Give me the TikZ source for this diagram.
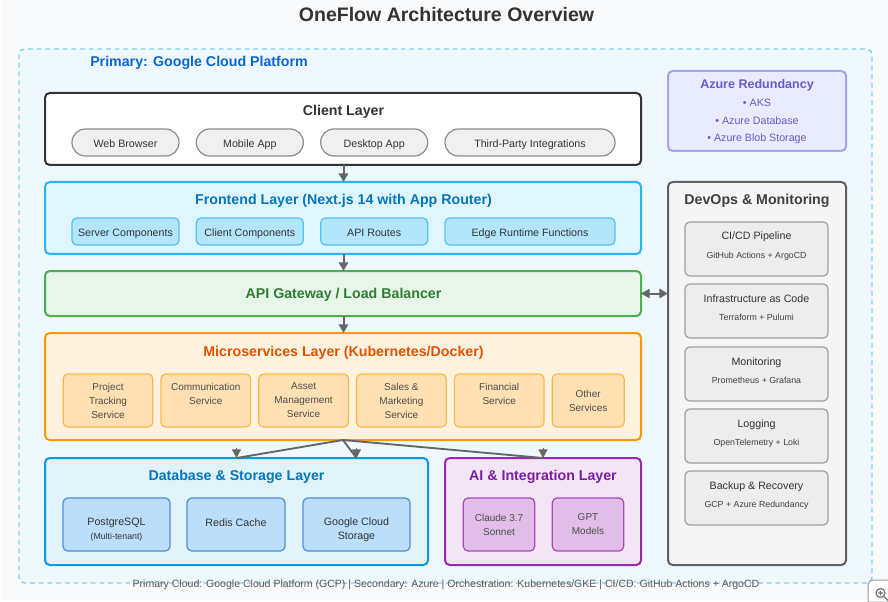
\documentclass[tikz,border=0pt]{standalone}
\usepackage{fontspec}
\setmainfont{Liberation Sans}
\usepackage{xcolor}
\usetikzlibrary{arrows.meta, positioning}

\definecolor{pagebg}{HTML}{F8FAFC}
\definecolor{cloudbg}{HTML}{F0F8FF}
\definecolor{clouddash}{HTML}{81D4EC}
\definecolor{primarytext}{HTML}{0B66CC}
\definecolor{linkgray}{HTML}{666666}
\definecolor{frontline}{HTML}{29B6F6}
\definecolor{frontfill}{HTML}{E1F5FE}
\definecolor{fronttext}{HTML}{0277BD}
\definecolor{frontsub}{HTML}{B3E5FC}
\definecolor{frontsubline}{HTML}{4FC3F7}
\definecolor{gateline}{HTML}{4CAF50}
\definecolor{gatefill}{HTML}{E8F5E9}
\definecolor{gatetext}{HTML}{2E7D32}
\definecolor{microline}{HTML}{FF9800}
\definecolor{microfill}{HTML}{FFF3E0}
\definecolor{microtext}{HTML}{E65100}
\definecolor{microsub}{HTML}{FFE0B2}
\definecolor{microsubline}{HTML}{FFB74D}
\definecolor{dbline}{HTML}{0A9BE0}
\definecolor{dbfill}{HTML}{E1F2F9}
\definecolor{dbsub}{HTML}{BBDEFB}
\definecolor{dbsubline}{HTML}{4A90D9}
\definecolor{ailine}{HTML}{9C27B0}
\definecolor{aifill}{HTML}{F3E5F5}
\definecolor{aitext}{HTML}{7B1FA2}
\definecolor{aisub}{HTML}{E1BEE7}
\definecolor{aisubline}{HTML}{AB47BC}
\definecolor{azureline}{HTML}{A3A3EE}
\definecolor{azurefill}{HTML}{E9EBFF}
\definecolor{azuretext}{HTML}{6A5ACD}

\newcommand{\toppad}{\rule{0pt}{13pt}}

\tikzset{
    boxed/.style={draw, rounded corners=3.5pt, line width=1.5pt, anchor=north west, inner sep=0pt, outer sep=0pt},
    layer/.style={boxed, minimum height=#1*0.75pt},
    layertitle/.style={anchor=base, inner sep=0pt, font=\fontsize{10.65}{12}\selectfont\bfseries},
    subbox/.style={draw, rounded corners=3.5pt, line width=0.9pt, inner sep=0pt, outer sep=0pt, align=center,
        font=\fontsize{8}{10.5}\selectfont, text=black!80},
    rowitem/.style={subbox, minimum width=80.25pt, minimum height=20.25pt, text height=8pt, text depth=1.2pt},
    pill/.style={rowitem, rounded corners=10pt, fill=black!6, draw=black!45},
    frontitem/.style={rowitem, fill=frontsub, draw=frontsubline},
    service/.style={subbox, fill=microsub, draw=microsubline, minimum width=67.25pt, minimum height=39.75pt,
        font=\fontsize{7.5}{10.5}\selectfont, text=black!70},
    store/.style={subbox, fill=dbsub, draw=dbsubline, minimum height=39.75pt},
    model/.style={subbox, fill=aisub, draw=aisubline, minimum width=53.5pt, minimum height=39.75pt,
        font=\fontsize{7.5}{10.5}\selectfont, text=black!70},
    devopsitem/.style={draw=black!38, fill=black!7, rounded corners=3.5pt, line width=0.9pt, inner sep=0pt,
        outer sep=0pt, minimum width=107.25pt, minimum height=40.5pt},
    azureitem/.style={anchor=base, inner sep=0pt, text=azuretext, font=\fontsize{8}{10}\selectfont},
    link/.style={draw=linkgray, line width=1.5pt},
    flow/.style={link, -{Triangle[length=6.5pt,width=7pt]}},
    dualflow/.style={link, {Triangle[length=6.5pt,width=7pt]}-{Triangle[length=6.5pt,width=7pt]}},
}

\begin{document}
\begin{tikzpicture}[x=0.75pt,y=-0.75pt,node distance=13pt]
    \useasboundingbox (0,0) rectangle (888,602);
    \fill[pagebg] (1,0) rectangle (888,600);
    \node[anchor=base, inner sep=0pt, font=\fontsize{14.65}{18}\selectfont\bfseries, text=black!80] (heading) at (446.5,22) {OneFlow Architecture Overview};

    % cloud frame
    \draw[draw=clouddash, fill=cloudbg, line width=1.1pt, dash pattern=on 3.5pt off 3pt, rounded corners=4pt]
        (19,49) rectangle (872,583);
    \node[anchor=base west, inner sep=0pt, font=\fontsize{10.65}{12}\selectfont\bfseries, text=primarytext] (primary) at (90,67) {Primary: Google Cloud Platform};

    % client layer
    \node[layer=72, draw=black!80, fill=white, minimum width=447pt] (client) at (45,93) {};
    \node[layertitle, text=black!80] (clienttitle) at (343.5,116) {Client Layer};
    \node[pill] (browser) at (125.5,142.5) {Web Browser};
    \node[pill, right=of browser] (mobile) {Mobile App};
    \node[pill, right=of mobile] (desktop) {Desktop App};
    \node[pill, right=of desktop, minimum width=127.5pt] (thirdparty) {Third-Party Integrations};

    % frontend layer
    \node[layer=72, draw=frontline, fill=frontfill, minimum width=447pt] (frontend) at (45,182) {};
    \node[layertitle, text=fronttext] (fronttitle) at (343.5,205) {Frontend Layer (Next.js 14 with App Router)};
    \node[frontitem] (server) at (125.5,231.5) {Server Components};
    \node[frontitem, right=of server] (clientcomp) {Client Components};
    \node[frontitem, right=of clientcomp] (apiroutes) {API Routes};
    \node[frontitem, right=of apiroutes, minimum width=127.5pt] (edge) {Edge Runtime Functions};

    % gateway
    \node[layer=45, draw=gateline, fill=gatefill, minimum width=447pt] (gateway) at (45,271) {};
    \node[layertitle, text=gatetext] (gatetitle) at (343.5,298) {API Gateway / Load Balancer};

    % microservices
    \node[layer=107, draw=microline, fill=microfill, minimum width=447pt] (micro) at (45,333) {};
    \node[layertitle, text=microtext] (microtitle) at (343.5,356) {Microservices Layer (Kubernetes/Docker)};
    \node[service] (project) at (108,400.5) {Project\\Tracking\\Service};
    \node[service, right=6.1pt of project] (comm) {Communication\\Service\\~};
    \node[service, right=6.1pt of comm] (asset) {Asset\\Management\\Service};
    \node[service, right=6.1pt of asset] (sales) {Sales \&\\Marketing\\Service};
    \node[service, right=6.1pt of sales] (financial) {Financial\\Service\\~};
    \node[service, minimum width=54pt, right=6.1pt of financial] (other) {Other\\Services};

    % database
    \node[layer=107, draw=dbline, fill=dbfill, minimum width=287.25pt] (db) at (45,458) {};
    \node[layertitle, text=fronttext] (dbtitle) at (236.5,480) {Database \& Storage Layer};
    \node[store, minimum width=80.25pt] (postgres) at (116.5,524.5) {\toppad PostgreSQL\\{\fontsize{6.6}{8}\selectfont (Multi-tenant)}};
    \node[store, minimum width=73.5pt] (redis) at (236,524.5) {\toppad Redis Cache\\~};
    \node[store, minimum width=80.25pt] (gcs) at (356.5,524.5) {\toppad Google Cloud\\Storage};

    % ai layer
    \node[layer=107, draw=ailine, fill=aifill, minimum width=147pt] (ai) at (445,458) {};
    \node[layertitle, text=aitext] (aititle) at (543,480) {AI \& Integration Layer};
    \node[model] (claude) at (499,524.5) {Claude 3.7\\Sonnet};
    \node[model] (gpt) at (588,524.5) {GPT\\Models};

    % azure
    \node[layer=80, draw=azureline, fill=azurefill, minimum width=133.5pt] (azure) at (668,71) {};
    \node[azureitem, font=\fontsize{9.4}{12}\selectfont\bfseries] (azuretitle) at (757,89) {Azure Redundancy};
    \node[azureitem] (aks) at (757,107) {• AKS};
    \node[azureitem] (azuredb) at (757,125) {• Azure Database};
    \node[azureitem] (blob) at (757,142) {• Azure Blob Storage};

    % devops column
    \node[layer=383, draw=black!62, fill=black!4, minimum width=133.5pt] (devops) at (668,182) {};
    \node[layertitle, text=black!75] (devopstitle) at (757,205) {DevOps \& Monitoring};
    \foreach \nm/\ypos/\head/\tools in {
        cicd/249/{CI/CD Pipeline}/GitHub Actions + ArgoCD,
        iac/311/Infrastructure as Code/Terraform + Pulumi,
        monitoring/374/Monitoring/Prometheus + Grafana,
        logging/436/Logging/OpenTelemetry + Loki,
        backup/498/Backup \& Recovery/GCP + Azure Redundancy} {
        \node[devopsitem] (\nm) at (756.5,\ypos) {};
        \node[anchor=base, inner sep=0pt, font=\fontsize{8}{10}\selectfont, text=black!80] (\nm head) at ([yshift=-13.5pt]\nm.north) {\head};
        \node[anchor=base, inner sep=0pt, font=\fontsize{6.6}{8}\selectfont, text=black!75] (\nm tools) at ([yshift=-27pt]\nm.north) {\tools};
    }

    % connectors
    \draw[flow] (client.south -| clienttitle) -- (frontend.north -| clienttitle);
    \draw[flow] (frontend.south -| clienttitle) -- (gateway.north -| clienttitle);
    \draw[flow] (gateway.south -| clienttitle) -- (micro.north -| clienttitle);
    \draw[dualflow] (gateway.east) -- (gateway.east -| devops.west);
    \coordinate (microout) at (micro.south);
    \coordinate (gcsin) at (gcs.center |- db.north);
    \foreach \target in {db.north, gcsin, ai.north} {
        \draw[link, line width=1.4pt] (microout) -- (\target);
        \draw[flow, line width=0pt] ([yshift=7pt]\target) -- (\target);
    }

    \node[anchor=base, inner sep=0pt, font=\fontsize{7.9}{11}\selectfont, text=black!65] (footnote) at (446,587)
        {Primary Cloud: Google Cloud Platform (GCP) | Secondary: Azure | Orchestration: Kubernetes/GKE | CI/CD: GitHub Actions + ArgoCD};

    % zoom button in the corner
    \draw[draw=black!40, fill=white, line width=0.75pt] (888,580) -- (873,580) to[out=180,in=90] (868,585) -- (868,602) -- (888,602);
    \draw[draw=black!55, line width=0.9pt] (880.5,593) circle[radius=4.5];
    \draw[draw=black!55, line width=0.9pt] (884,596.5) -- (888,600.5) (878,593) -- (883,593) (880.5,590.5) -- (880.5,595.5);
\end{tikzpicture}
\end{document}
